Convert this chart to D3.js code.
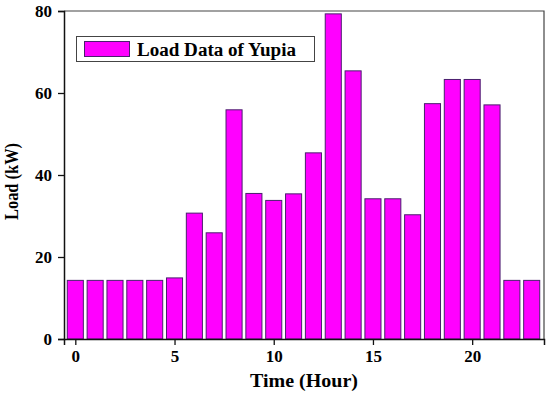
<!DOCTYPE html>
<html><head><meta charset="utf-8">
<script src="https://cdn.jsdelivr.net/npm/d3@7"></script>
<style>body{margin:0;background:#fff}svg{display:block}text{font-family:"Liberation Serif","Times New Roman",serif;font-weight:bold}</style>
</head><body><svg id="c" width="550" height="394"></svg>
<script>
const hours = d3.range(0, 24);
const loadValues = [14.3,14.3,14.3,14.3,14.3,14.9,30.7,25.9,55.9,35.5,33.8,35.4,45.4,79.3,65.4,34.2,34.2,30.3,57.4,63.3,63.3,57.1,14.3,14.3];
const xTicks = [0,5,10,15,20];
const yTicks = [0,20,40,60,80];
const seriesName = "Load Data of Yupia";

const svg = d3.select("#c");
const L=64, R=544, T=11, B=339;
const x = d3.scaleLinear().domain([-0.57, 23.62]).range([L, R]);
const y = d3.scaleLinear().domain([0, 80]).range([B, T]);
const bw = 0.81;

svg.append("g").selectAll("rect").data(hours).join("rect")
  .attr("x", d => x(d - bw/2)).attr("width", x(bw) - x(0))
  .attr("y", (d,i) => y(loadValues[i])).attr("height", (d,i) => y(0) - y(loadValues[i]))
  .attr("fill", "#ff00ff").attr("stroke", "#4a1f6e").attr("stroke-width", 1);

// frame
svg.append("path").attr("d", `M${L},${T}H${R}V${B}`).attr("fill","none").attr("stroke","#444").attr("stroke-width",1.2);

const xa = svg.append("g").attr("transform", `translate(0,${B})`)
  .call(d3.axisBottom(x).tickValues(xTicks).tickSize(6).tickPadding(5).tickFormat(d3.format("d")));
const ya = svg.append("g").attr("transform", `translate(${L},0)`)
  .call(d3.axisLeft(y).tickValues(yTicks).tickSize(6).tickPadding(6).tickFormat(d3.format("d")));
[xa, ya].forEach(a => {
  a.select(".domain").attr("stroke","#111").attr("stroke-width",1.5);
  a.selectAll(".tick line").attr("stroke","#111").attr("stroke-width",1.3);
  a.selectAll("text").attr("font-size", 17).attr("fill","#000")
    .attr("font-family", '"Liberation Serif",serif').attr("font-weight","bold");
});
ya.selectAll("text").attr("dy","0.35em");

svg.append("text").attr("x", 304).attr("y", 387).attr("text-anchor","middle")
  .attr("font-size", 18).attr("textLength", 108).attr("lengthAdjust","spacingAndGlyphs").text("Time (Hour)");
svg.append("text").attr("transform", `translate(18,181.5) rotate(-90)`).attr("text-anchor","middle")
  .attr("font-size", 18).attr("textLength", 77).attr("lengthAdjust","spacingAndGlyphs").text("Load (kW)");

// legend
const lg = svg.append("g");
lg.append("rect").attr("x",76.5).attr("y",36.5).attr("width",238).attr("height",25)
  .attr("fill","#fff").attr("stroke","#444").attr("stroke-width",1);
lg.append("rect").attr("x",84.5).attr("y",41.5).attr("width",45).attr("height",15)
  .attr("fill","#ff00ff").attr("stroke","#4a1f6e").attr("stroke-width",1);
lg.append("text").attr("x",137).attr("y",56).attr("font-size",18)
  .attr("textLength",159).attr("lengthAdjust","spacingAndGlyphs").text(seriesName);
</script></body></html>
